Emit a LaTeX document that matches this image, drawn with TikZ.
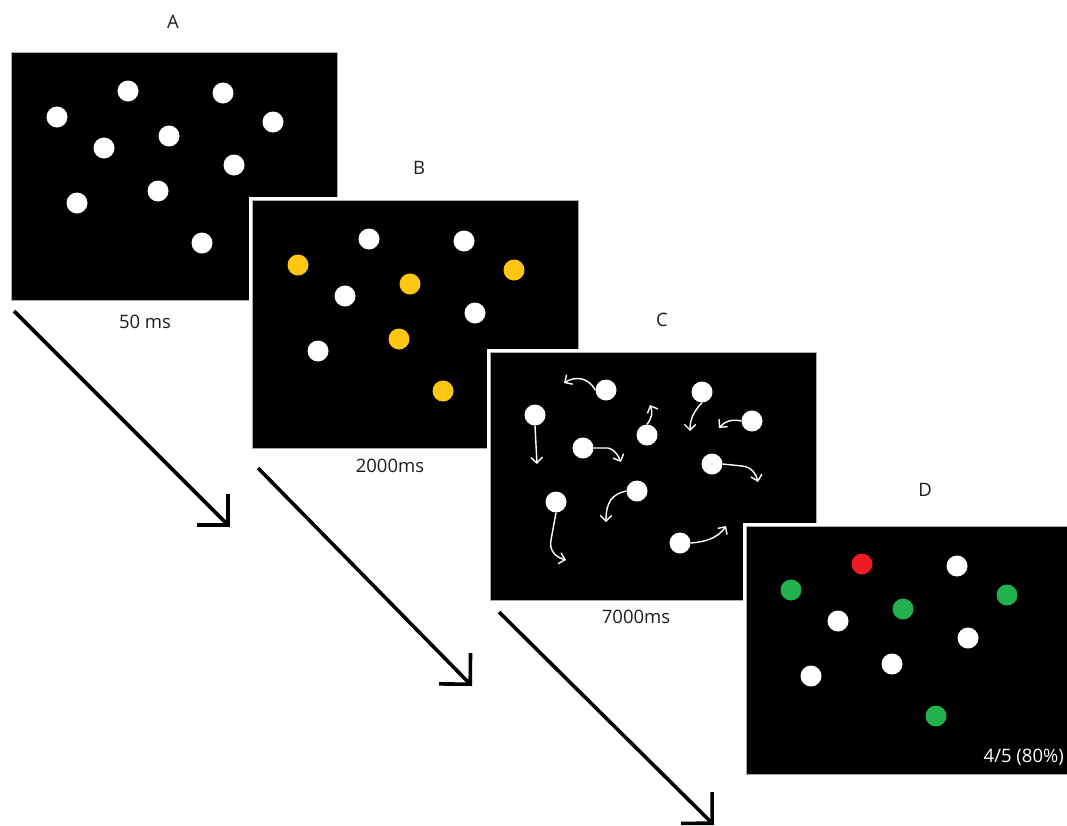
\documentclass[tikz,border=0pt]{standalone}
\usepackage{fontspec}
\setmainfont{Open Sans}
\usetikzlibrary{arrows.meta}
\definecolor{gold}{RGB}{255,198,18}
\definecolor{pgreen}{RGB}{34,177,76}
\definecolor{pred}{RGB}{237,28,36}
\definecolor{txt}{RGB}{30,30,30}
\definecolor{bord}{RGB}{170,170,170}
\tikzset{
  panel/.style={draw=bord, line width=0.8pt, fill=black, minimum width=326pt, minimum height=248pt, anchor=north west, inner sep=0pt,
    preaction={draw=white, line width=6pt}},
  dot/.style={circle, fill=#1, minimum size=21pt, inner sep=0pt},
  dot/.default=white,
  lbl/.style={text=txt, font=\fontsize{18.5}{22}\selectfont, inner sep=0pt},
  bigarrow/.style={line width=3.6pt, line cap=butt, -{Straight Barb[angle=90:31pt, line join=miter, line cap=butt]}},
  movearrow/.style={draw=white, line width=1.4pt, -{Straight Barb[angle=90:8pt]}}
}
\begin{document}
\begin{tikzpicture}[x=1pt,y=-1pt]
\useasboundingbox (0,0) rectangle (1067,825);
\fill[white] (0,0) rectangle (1067,825);

% arrows between panels
\coordinate (s1) at (14,311);  \coordinate (t1) at (230,527);
\coordinate (s2) at (258,468); \coordinate (t2) at (472,686);
\coordinate (s3) at (499,612); \coordinate (t3) at (714,825);
\draw[bigarrow] (s1) -- (t1);
\draw[bigarrow] (s2) -- (t2);
\draw[bigarrow] (s3) -- (t3);

% Panel A
\node[panel] (pA) at (11,52) {};
\begin{scope}[shift={(11,52)}]
\node[dot] (a1) at (46,65) {};
\node[dot] (a2) at (117,39) {};
\node[dot] (a3) at (212,41) {};
\node[dot] (a4) at (262,70) {};
\node[dot] (a5) at (93,96) {};
\node[dot] (a6) at (158,84) {};
\node[dot] (a7) at (223,113) {};
\node[dot] (a8) at (66,151) {};
\node[dot] (a9) at (147,139) {};
\node[dot] (a10) at (191,191) {};
\end{scope}

% Panel B
\node[panel] (pB) at (252,200) {};
\begin{scope}[shift={(252,200)}]
\node[dot=gold] (b1) at (46,65) {};
\node[dot] (b2) at (117,39) {};
\node[dot] (b3) at (212,41) {};
\node[dot=gold] (b4) at (262,70) {};
\node[dot] (b5) at (93,96) {};
\node[dot=gold] (b6) at (158,84) {};
\node[dot] (b7) at (223,113) {};
\node[dot] (b8) at (66,151) {};
\node[dot=gold] (b9) at (147,139) {};
\node[dot=gold] (b10) at (191,191) {};
\end{scope}

% Panel C
\node[panel] (pC) at (490,352) {};
\node[dot] (c1) at (606,390) {};
\node[dot] (c2) at (535,415) {};
\node[dot] (c3) at (702,392) {};
\node[dot] (c4) at (752,421) {};
\node[dot] (c5) at (583,448) {};
\node[dot] (c6) at (647,435) {};
\node[dot] (c7) at (712,464) {};
\node[dot] (c8) at (556,502) {};
\node[dot] (c9) at (637,491) {};
\node[dot] (c10) at (680,543) {};
\draw[movearrow] (c1.west) .. controls (588,377) and (575,376) .. (564,383);
\draw[movearrow] (c2.south) -- (537,464);
\draw[movearrow] (c5.east) -- (608,448) .. controls (614,449) and (618,455) .. (621,462);
\draw[movearrow] (c6.north) .. controls (652,418) and (653,412) .. (650,405);
\draw[movearrow] (c3.south) .. controls (693,412) and (690,420) .. (690,431);
\draw[movearrow] (c4.west) .. controls (732,419) and (725,421) .. (719,428);
\draw[movearrow] (c7.east) -- (742,466) .. controls (752,467) and (756,474) .. (758,482);
\draw[movearrow] (c8.south) -- (551,540) .. controls (549,550) and (555,557) .. (566,560);
\draw[movearrow] (c9.west) .. controls (612,494) and (606,502) .. (606,522);
\draw[movearrow] (c10.east) .. controls (705,542) and (718,538) .. (726,526);

% Panel D
\node[panel] (pD) at (746,526) {};
\begin{scope}[shift={(745,525)}]
\node[dot=pgreen] (d1) at (46,65) {};
\node[dot=pred] (d2) at (117,39) {};
\node[dot] (d3) at (212,41) {};
\node[dot=pgreen] (d4) at (262,70) {};
\node[dot] (d5) at (93,96) {};
\node[dot=pgreen] (d6) at (158,84) {};
\node[dot] (d7) at (223,113) {};
\node[dot] (d8) at (66,151) {};
\node[dot] (d9) at (147,139) {};
\node[dot=pgreen] (d10) at (191,191) {};
\end{scope}
\node[lbl, text=white, anchor=east] (score) at (1064,757) {4/5 (80\%)};

% labels
\node[lbl] (lA) at (173,22) {A};
\node[lbl] (lB) at (419,168) {B};
\node[lbl] (lC) at (662,320) {C};
\node[lbl] (lD) at (925,490) {D};
\node[lbl] (tA) at (145,322) {50 ms};
\node[lbl] (tB) at (390,466) {2000ms};
\node[lbl] (tC) at (636,617) {7000ms};
\end{tikzpicture}
\end{document}
